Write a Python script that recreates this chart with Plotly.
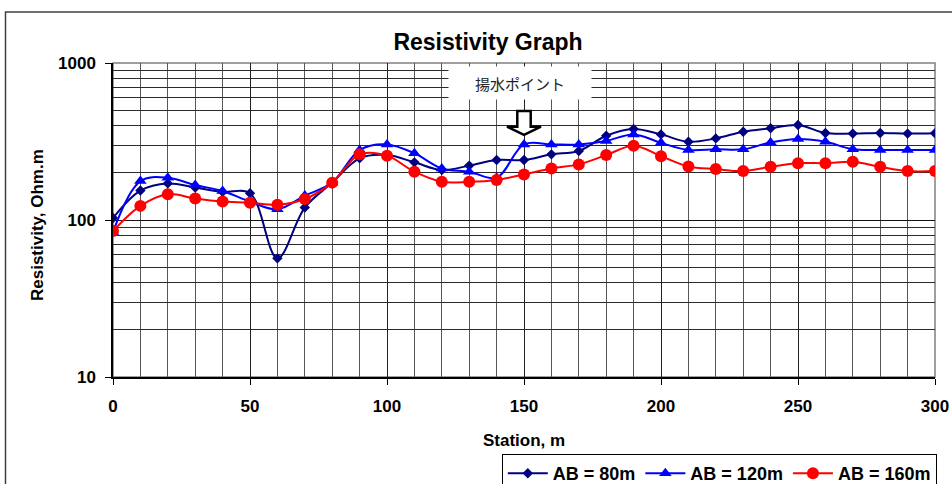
import plotly.graph_objects as go

# Survey stations along the line (m)
stations = list(range(0, 301, 10))

# Apparent resistivity (Ohm.m) for each electrode spacing
ab80 = [103, 154, 171, 161, 151, 148, 57, 120, 173, 247, 259, 233, 208, 222, 241, 241,
        262, 275, 344, 380, 351, 315, 331, 365, 384, 403, 358, 355, 358, 355, 357]
ab120 = [84, 177, 186, 167, 153, 131, 117, 143, 173, 279, 303, 266, 213, 203, 186, 303,
         303, 303, 319, 351, 310, 279, 282, 282, 312, 328, 315, 282, 279, 279, 279]
ab160 = [85, 123, 146, 137, 131, 129, 125, 136, 173, 262, 257, 203, 175, 175, 180, 195,
         213, 226, 259, 297, 255, 219, 211, 205, 218, 230, 230, 235, 218, 205, 205]

series_names = ["AB = 80m", "AB = 120m", "AB = 160m"]
pump_station = 150
pump_label = "揚水ポイント"

FONT = "Liberation Sans, Arial, sans-serif"


def bold(size):
    return dict(family=FONT, size=size, color="black", weight="bold")


fig = go.Figure()

styles = [
    dict(color="#000080", symbol="diamond", size=8),
    dict(color="#0000FF", symbol="triangle-up", size=11),
    dict(color="#FF0000", symbol="circle", size=12),
]
for name, vals, st in zip(series_names, [ab80, ab120, ab160], styles):
    fig.add_trace(go.Scatter(
        x=stations, y=vals, name=name, mode="lines+markers",
        line=dict(color=st["color"], width=2, shape="spline", smoothing=1),
        marker=dict(color=st["color"], symbol=st["symbol"], size=st["size"]),
    ))

# minor grid positions on the log axis (2..9 in each decade)
minor_y = [m * 10 ** d for d in (1, 2) for m in range(2, 10)]

fig.update_layout(
    width=952, height=484,
    margin=dict(l=113, r=17, t=63, b=107, autoexpand=False),
    paper_bgcolor="white", plot_bgcolor="white",
    font=dict(family=FONT, color="black"),
    title=dict(text="Resistivity Graph", x=488 / 952, y=1 - 42 / 484,
               xanchor="center", yanchor="middle", font=bold(23)),
    showlegend=True,
    legend=dict(orientation="h", x=0.473, y=(377 - 454) / 314, xanchor="left", yanchor="top",
                bordercolor="black", borderwidth=1, bgcolor="white",
                font=bold(18), itemwidth=40, tracegroupgap=0),
)

fig.update_xaxes(
    range=[0, 300], tickvals=list(range(0, 301, 50)),
    ticks="outside", ticklen=6, tickcolor="black", ticklabelstandoff=7,
    tickfont=bold(17),
    showline=True, linecolor="black", linewidth=1.5,
    showgrid=True, gridcolor="#222222", gridwidth=1,
    minor=dict(tickvals=stations, showgrid=True, gridcolor="#555555", gridwidth=1, ticks=""),
    zeroline=False,
)
fig.update_yaxes(
    type="log", range=[1, 3], tickvals=[10, 100, 1000],
    ticks="outside", ticklen=6, tickcolor="black", ticklabelstandoff=6,
    tickfont=bold(17),
    showline=True, linecolor="black", linewidth=1.5,
    showgrid=True, gridcolor="#111111", gridwidth=1,
    minor=dict(tickvals=minor_y, showgrid=True, gridcolor="#2a2a2a", gridwidth=1, ticks=""),
    zeroline=False,
)

# plot-area frame (top / right)
fig.add_shape(type="rect", xref="paper", yref="paper", x0=0, y0=0, x1=1, y1=1,
              line=dict(color="#808080", width=1.5), layer="below")
# outer chart frame (left and top edges)
fig.add_shape(type="path", xref="paper", yref="paper",
              path=f"M {(5.5 - 113) / 822},{(377 - 484) / 314} L {(5.5 - 113) / 822},{(377 - 12) / 314} "
                   f"L {(952 - 113) / 822},{(377 - 12) / 314}",
              line=dict(color="#404040", width=1.5))

# axis titles
fig.add_annotation(text="Station, m", xref="paper", yref="paper",
                   x=0.5, y=(377 - 440) / 314, xanchor="center", yanchor="middle",
                   showarrow=False, font=bold(17))
fig.add_annotation(text="Resistivity, Ohm.m", xref="paper", yref="paper",
                   x=(37 - 113) / 822, y=(377 - 225) / 314, xanchor="center", yanchor="middle",
                   textangle=-90, showarrow=False, font=bold(17))

# pumping point label and hollow arrow
fig.add_annotation(text=pump_label, xref="x", yref="paper",
                   x=pump_station - 1.5, y=(377 - 83) / 314, xanchor="center", yanchor="middle",
                   showarrow=False, width=140, height=30, bgcolor="white",
                   font=dict(family="Noto Sans CJK JP", size=15, color="#222222"))
sw, hw = 2.45, 6.2
y_top, y_neck, y_tip = 0.847, 0.797, 0.771
p = pump_station
arrow_path = (f"M {p - sw},{y_top} L {p + sw},{y_top} L {p + sw},{y_neck} "
              f"L {p + hw},{y_neck} L {p},{y_tip} L {p - hw},{y_neck} L {p - sw},{y_neck} Z")
fig.add_shape(type="path", xref="x", yref="paper", path=arrow_path,
              fillcolor="white", line=dict(color="black", width=2.5))

fig.write_html("out.html")
